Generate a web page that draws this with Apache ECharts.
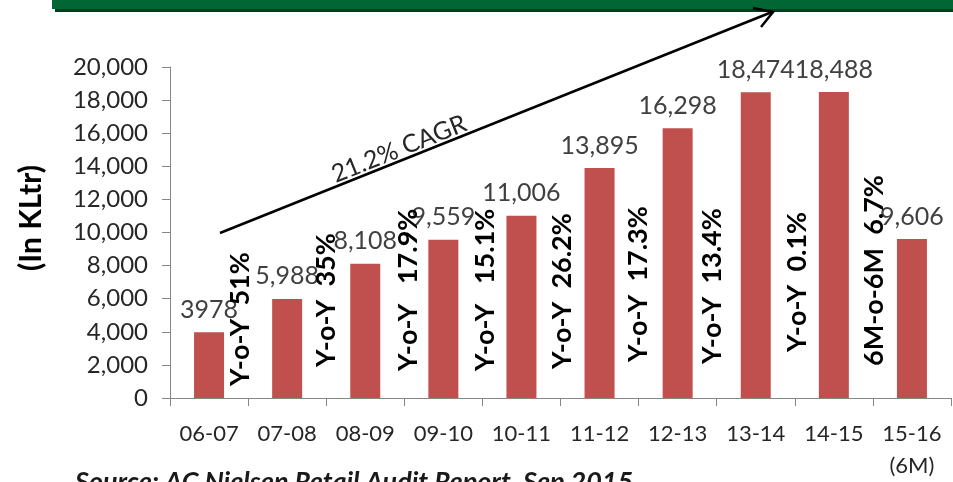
<!DOCTYPE html>
<html>
<head>
<meta charset="utf-8">
<script src="https://cdn.jsdelivr.net/npm/echarts@6/dist/echarts.min.js"></script>
<style>
html,body{margin:0;padding:0;background:#fff;}
#chart{width:953px;height:482px;}
</style>
</head>
<body>
<div id="chart"></div>
<script>
// ---- data ----
var categories = ['06-07','07-08','08-09','09-10','10-11','11-12','12-13','13-14','14-15','15-16\n(6M)'];
var volumes = [3978, 5988, 8108, 9559, 11006, 13895, 16298, 18474, 18488, 9606];
var volumeLabels = ['3978','5,988','8,108','9,559','11,006','13,895','16,298','18,474','18,488','9,606'];
var growthLabels = ['Y-o-Y  51%','Y-o-Y  35%','Y-o-Y   17.9%','Y-o-Y   15.1%','Y-o-Y  26.2%','Y-o-Y  17.3%','Y-o-Y  13.4%','Y-o-Y  0.1%','6M-o-6M  6.7%'];
var yTicks = [0, 2000, 4000, 6000, 8000, 10000, 12000, 14000, 16000, 18000, 20000];
var cagrText = '21.2% CAGR';
var yTitle = '(In KLtr)';
var sourceText = 'Source: AC Nielsen Retail Audit Report, Sep 2015';

// ---- layout (not data) ----
var growthDx = [-8, 0, 4, 3, 2, 0, -4, 2, 1];
var growthLift = [12, 31, 27, 27, 29, 36, 34, 46, 32];

var FONT = 'Lato';
var chart = echarts.init(document.getElementById('chart'));
var option = {
  animation: false,
  backgroundColor: '#ffffff',
  grid: {left: 170, right: 2, top: 67, bottom: 77, containLabel: false},
  xAxis: {
    type: 'category',
    data: categories,
    axisLine: {lineStyle: {color: '#868686', width: 1}},
    axisTick: {show: true, length: 8, lineStyle: {color: '#868686'}},
    axisLabel: {color: '#262626', fontFamily: FONT, fontSize: 22, lineHeight: 32, margin: 20, interval: 0}
  },
  yAxis: {
    type: 'value',
    min: yTicks[0],
    max: yTicks[yTicks.length - 1],
    interval: yTicks[1] - yTicks[0],
    axisLine: {show: true, lineStyle: {color: '#868686', width: 1}},
    axisTick: {show: true, length: 8, lineStyle: {color: '#868686'}},
    splitLine: {show: false},
    axisLabel: {
      color: '#262626', fontFamily: FONT, fontSize: 24, margin: 22,
      formatter: function (v) { return v.toLocaleString('en-US'); }
    }
  },
  series: [{
    type: 'bar',
    data: volumes,
    barWidth: 30,
    itemStyle: {color: '#C0504D'},
    label: {
      show: true, position: 'top', distance: 10,
      color: '#404040', fontFamily: FONT, fontSize: 25,
      formatter: function (p) { return volumeLabels[p.dataIndex]; }
    }
  }]
};
chart.setOption(option);

// annotations
var graphics = [];
// top green banner
graphics.push({type: 'rect', shape: {x: 55, y: 0, width: 900, height: 12}, style: {fill: '#00401F'}, z: 10});
graphics.push({type: 'rect', shape: {x: 52, y: 0, width: 903, height: 9}, style: {fill: '#006633'}, z: 11});

// growth labels between bars
var x0 = chart.convertToPixel({xAxisIndex: 0}, 0);
var x1 = chart.convertToPixel({xAxisIndex: 0}, 1);
var band = x1 - x0;
var yAxisBase = chart.convertToPixel({yAxisIndex: 0}, 0);
growthLabels.forEach(function (t, i) {
  var cx = chart.convertToPixel({xAxisIndex: 0}, i) + band / 2 + growthDx[i];
  graphics.push({
    type: 'text', x: cx, y: yAxisBase - growthLift[i], rotation: Math.PI / 2, z: 20,
    style: {text: t, fill: '#000000', font: 'bold 27px ' + FONT, textAlign: 'left', textVerticalAlign: 'middle'}
  });
});

// CAGR arrow
graphics.push({type: 'line', shape: {x1: 220, y1: 233, x2: 772, y2: 12}, style: {stroke: '#000', lineWidth: 2.5}, z: 15});
graphics.push({type: 'polyline', shape: {points: [[753, 8], [773, 12], [761, 27]]}, style: {stroke: '#000', lineWidth: 2.5, fill: null}, z: 15});
graphics.push({
  type: 'text', x: 399, y: 149, rotation: Math.atan2(221, 553), z: 16,
  style: {text: cagrText, fill: '#262626', font: '25px ' + FONT, textAlign: 'center', textVerticalAlign: 'middle'}
});

// y title
graphics.push({
  type: 'text', x: 31, y: 218, rotation: Math.PI / 2, z: 16,
  style: {text: yTitle, fill: '#000', font: 'bold 30px ' + FONT, textAlign: 'center', textVerticalAlign: 'middle'}
});

// source
graphics.push({
  type: 'text', x: 75, y: 469, z: 16,
  style: {text: sourceText, fill: '#1a1a1a', font: 'italic bold 27px ' + FONT, textAlign: 'left', textVerticalAlign: 'top'}
});

chart.setOption({graphic: {elements: graphics}});
</script>
</body>
</html>
